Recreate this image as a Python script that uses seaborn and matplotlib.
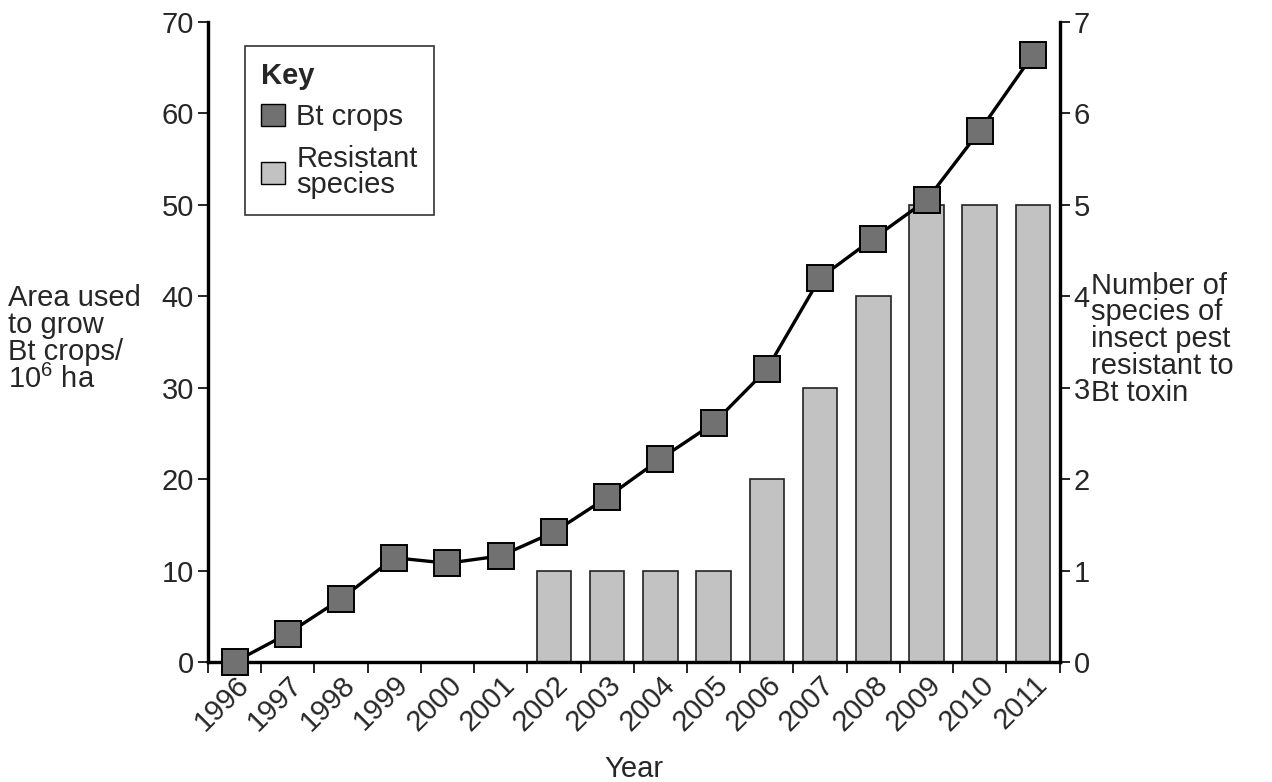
import numpy as np
import pandas as pd
import matplotlib
matplotlib.use('Agg')
import matplotlib.pyplot as plt
from matplotlib.patches import Patch
import seaborn as sns

sns.set_theme(style='white')
plt.rcParams['font.family'] = ['Liberation Sans', 'DejaVu Sans']

# data
years = ['1996', '1997', '1998', '1999', '2000', '2001', '2002', '2003',
         '2004', '2005', '2006', '2007', '2008', '2009', '2010', '2011']
btArea = [0, 3.1, 6.9, 11.4, 10.8, 11.6, 14.2, 18.0,
          22.2, 26.1, 32.0, 42.0, 46.3, 50.5, 58.1, 66.4]
resistant = [0, 0, 0, 0, 0, 0, 1, 1, 1, 1, 2, 3, 4, 5, 5, 5]

df = pd.DataFrame({'year': years, 'area': btArea, 'resistant': resistant})
pos = np.arange(len(years))
fs = 21

fig = plt.figure(figsize=(12.72, 7.82), dpi=100)
ax = fig.add_axes([0.1635, 0.1535, 0.6695, 0.8185])
ax2 = ax.twinx()

# bars on the right axis
sns.barplot(data=df, x='year', y='resistant', ax=ax2, color='#c2c2c2',
            saturation=1, width=0.65, edgecolor='#222222', linewidth=1.2)

# line on the left axis, drawn on top of bars
sns.lineplot(x=pos, y=df['area'], ax=ax, color='black', linewidth=2.4,
             marker='s', markersize=19, markerfacecolor='#717171',
             markeredgecolor='black', markeredgewidth=1.4, zorder=5,
             clip_on=False)
ax.set_zorder(ax2.get_zorder() + 1)
ax.patch.set_visible(False)

ax.set_xlim(-0.5, 15.5)
ax.set_ylim(0, 70)
ax2.set_ylim(0, 7)
ax.set_yticks(range(0, 71, 10))
ax2.set_yticks(range(0, 8))

# year labels at centres, tick marks at boundaries
ax.set_xticks(pos)
ax.set_xticklabels(years, rotation=45, ha='right', rotation_mode='anchor')
ax.set_xticks(np.arange(-0.5, 16, 1), minor=True)
ax.tick_params(axis='x', which='major', length=0, pad=6, labelsize=fs)
ax.tick_params(axis='x', which='minor', length=8, width=1.2, color='black',
               direction='out', bottom=True)
ax.tick_params(axis='y', length=7, width=1.2, color='black', direction='out',
               labelsize=fs, left=True, pad=3)
ax2.tick_params(axis='y', length=7, width=1.2, color='black', direction='out',
                labelsize=fs, right=True, pad=3)
ax2.set_xlabel('')
ax2.set_ylabel('')
ax.set_ylabel('')
ax.set_xlabel('Year', fontsize=fs, labelpad=14)

for a in (ax, ax2):
    a.spines['top'].set_visible(False)
    for s in ('left', 'bottom', 'right'):
        a.spines[s].set_color('black')
        a.spines[s].set_linewidth(2.3)

fig.text(0.006, 0.566, 'Area used\nto grow\nBt crops/\n$\\mathregular{10^6}$ ha',
         fontsize=fs, ha='left', va='center', linespacing=0.95)
fig.text(0.858, 0.566, 'Number of\nspecies of\ninsect pest\nresistant to\nBt toxin',
         fontsize=fs, ha='left', va='center', linespacing=0.95)

handles = [Patch(facecolor='#717171', edgecolor='black', label='Bt crops'),
           Patch(facecolor='#c2c2c2', edgecolor='black', label='Resistant\nspecies')]
leg = ax.legend(handles=handles, title='Key', loc='upper left',
                bbox_to_anchor=(0.044, 0.962), borderaxespad=0, fontsize=fs,
                fancybox=False, edgecolor='#333333', framealpha=1,
                handlelength=0.8, handleheight=0.8, handletextpad=0.4,
                borderpad=0.55, labelspacing=0.45, alignment='left')
leg.get_title().set_fontweight('bold')
leg.get_title().set_fontsize(fs)
leg.get_frame().set_linewidth(1.2)
for t in leg.get_texts():
    t.set_linespacing(0.95)

plt.savefig('out.png', dpi=100)
